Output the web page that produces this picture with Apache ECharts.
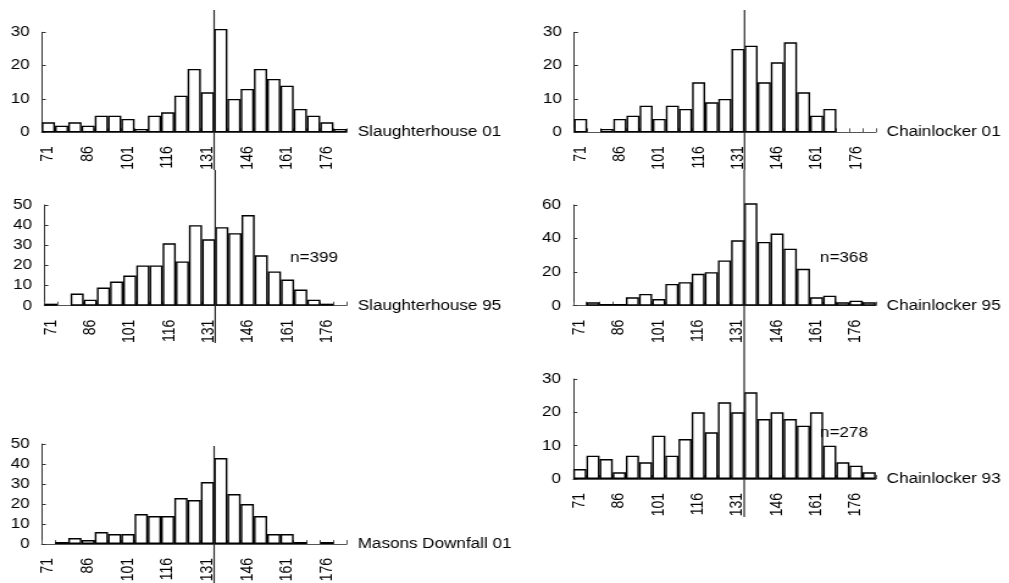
<!DOCTYPE html>
<html>
<head>
<meta charset="utf-8">
<script src="https://cdn.jsdelivr.net/npm/echarts@6/dist/echarts.min.js"></script>
<style>
  html, body { margin: 0; padding: 0; background: #fff; overflow: hidden; }
  /* The figure is laid out on a narrower canvas and widened horizontally. */
  #chart { width: 827px; height: 583px; transform: scaleX(1.22); transform-origin: 0 0; }
</style>
</head>
<body>
<div id="chart"></div>
<script>
// Length classes (bin start, 5-unit bins)
const bins = ['71', '76', '81', '86', '91', '96', '101', '106', '111', '116', '121', '126',
              '131', '136', '141', '146', '151', '156', '161', '166', '171', '176', '181'];

// Counts per bin for each sample
const slaughterhouse01 = [3, 2, 3, 2, 5, 5, 4, 1, 5, 6, 11, 19, 12, 31, 10, 13, 19, 16, 14, 7, 5, 3, 1];
const slaughterhouse95 = [1, 0, 6, 3, 9, 12, 15, 20, 20, 31, 22, 40, 33, 39, 36, 45, 25, 17, 13, 8, 3, 1, 0];
const masonsDownfall01 = [0, 1, 3, 2, 6, 5, 5, 15, 14, 14, 23, 22, 31, 43, 25, 20, 14, 5, 5, 1, 0, 1, 0];
const chainlocker01    = [4, 0, 1, 4, 5, 8, 4, 8, 7, 15, 9, 10, 25, 26, 15, 21, 27, 12, 5, 7, 0, 0, 0];
const chainlocker95    = [0, 2, 1, 1, 5, 7, 4, 13, 14, 19, 20, 27, 39, 61, 38, 43, 34, 22, 5, 6, 2, 3, 2];
const chainlocker93    = [3, 7, 6, 2, 7, 5, 13, 7, 12, 20, 14, 23, 20, 26, 18, 20, 18, 16, 20, 10, 5, 4, 2];

// Sample names and sizes
const sampleNames = ['Slaughterhouse 01', 'Slaughterhouse 95', 'Masons Downfall 01',
                     'Chainlocker 01', 'Chainlocker 95', 'Chainlocker 93'];
const sampleSizes = [null, 399, null, null, 368, 278];

// Value axis ranges
const yMaxes = [30, 50, 50, 30, 60, 30];
const ySteps = [10, 10, 10, 10, 20, 10];

// Reference mark sits between these two bins
const markBetween = ['131', '136'];

const series = [slaughterhouse01, slaughterhouse95, masonsDownfall01,
                chainlocker01, chainlocker95, chainlocker93];

// Panel placement (canvas pixels)
const layout = [
  { left: 34.2,  top: 32.3,  width: 250.0, height: 100.0, lineTop: 10,  lineBottom: 170, nX: null,  nY: null },
  { left: 36.3,  top: 205.0, width: 247.9, height: 100.7, lineTop: 170, lineBottom: 343, nX: 237.7, nY: 258 },
  { left: 34.2,  top: 444.0, width: 250.0, height: 100.0, lineTop: 446, lineBottom: 583, nX: null,  nY: null },
  { left: 470.5, top: 32.3,  width: 247.3, height: 100.0, lineTop: 10,  lineBottom: 170, nX: null,  nY: null },
  { left: 469.9, top: 205.0, width: 247.9, height: 100.7, lineTop: 170, lineBottom: 350, nX: 672.1, nY: 258 },
  { left: 469.9, top: 379.0, width: 247.9, height: 100.0, lineTop: 350, lineBottom: 517, nX: 672.1, nY: 432.7 }
];

const FONT = '"Liberation Sans", Arial, Helvetica, sans-serif';

const chart = echarts.init(document.getElementById('chart'), null, { renderer: 'canvas' });

const grids = [], xAxes = [], yAxes = [], barSeries = [];
series.forEach((values, i) => {
  const L = layout[i];
  grids.push({
    left: L.left, top: L.top, width: L.width, height: L.height,
    containLabel: false, outerBoundsMode: 'none'
  });
  xAxes.push({
    type: 'category', gridIndex: i, data: bins, boundaryGap: true,
    name: sampleNames[i], nameLocation: 'end', nameGap: 9,
    nameTextStyle: { fontFamily: FONT, fontSize: 14, color: '#000', align: 'left', verticalAlign: 'middle' },
    axisLine: { show: true, lineStyle: { color: '#555', width: 1 } },
    axisTick: { show: true, inside: true, length: 4, interval: 0, alignWithLabel: false,
                lineStyle: { color: '#555', width: 1 } },
    axisLabel: { interval: 2, rotate: 90, margin: 14, fontFamily: FONT, fontSize: 14, color: '#000' },
    splitLine: { show: false }
  });
  yAxes.push({
    type: 'value', gridIndex: i, min: 0, max: yMaxes[i], interval: ySteps[i],
    axisLine: { show: true, lineStyle: { color: '#333', width: 1 } },
    axisTick: { show: true, inside: true, length: 3.3, lineStyle: { color: '#333', width: 1 } },
    axisLabel: { margin: 10, fontFamily: FONT, fontSize: 14, color: '#000' },
    splitLine: { show: false }
  });
  barSeries.push({
    type: 'bar', xAxisIndex: i, yAxisIndex: i,
    data: values.map(v => (v === 0 ? '-' : v)),
    barCategoryGap: '0%', barGap: '0%',
    clip: false,
    itemStyle: { color: '#fff', borderColor: '#000', borderWidth: 1.4 },
    emphasis: { disabled: true },
    animation: false
  });
});

chart.setOption({
  backgroundColor: '#fff',
  animation: false,
  textStyle: { fontFamily: FONT },
  grid: grids,
  xAxis: xAxes,
  yAxis: yAxes,
  series: barSeries
});

// Vertical reference lines and sample-size notes
const graphics = [];
series.forEach((values, i) => {
  const L = layout[i];
  const a = chart.convertToPixel({ xAxisIndex: i }, markBetween[0]);
  const b = chart.convertToPixel({ xAxisIndex: i }, markBetween[1]);
  const x = (a + b) / 2;
  graphics.push({
    type: 'line', z: 100,
    shape: { x1: x, y1: L.lineTop, x2: x, y2: L.lineBottom },
    style: { stroke: '#222', lineWidth: 1.2 }
  });
  if (sampleSizes[i] !== null) {
    graphics.push({
      type: 'text', z: 100, x: L.nX, y: L.nY,
      style: { text: 'n=' + sampleSizes[i], fontFamily: FONT, fontSize: 14, fill: '#000',
               align: 'left', verticalAlign: 'middle' }
    });
  }
});
chart.setOption({ graphic: graphics });
</script>
</body>
</html>
